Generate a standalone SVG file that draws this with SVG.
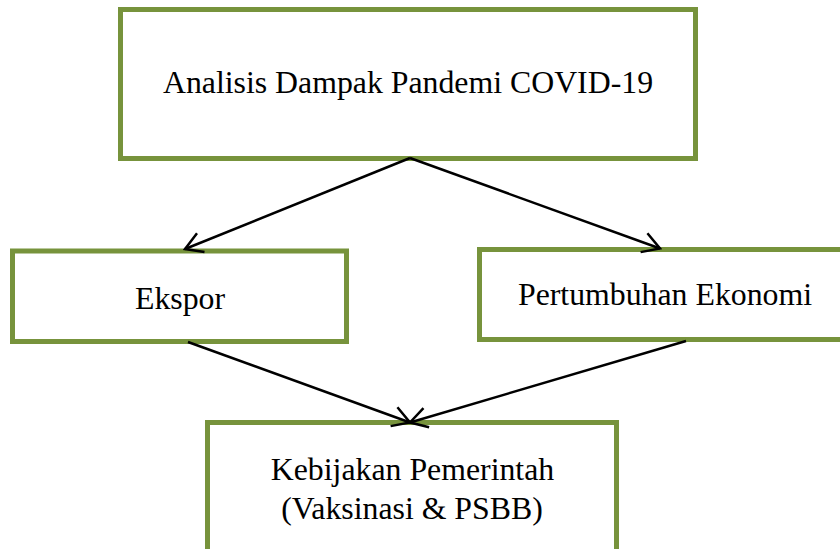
<svg xmlns="http://www.w3.org/2000/svg" width="840" height="549" viewBox="0 0 840 549">
  <defs>
    <style>
      .box { fill: #ffffff; stroke: #77933C; stroke-width: 5; }
      .lbl { font-family: "Liberation Serif", "Times New Roman", serif; font-size: 31.8px; fill: #000000; text-anchor: middle; }
      .conn { stroke: #000000; stroke-width: 2.5; fill: none; }
    </style>
    <marker id="arrow" markerUnits="userSpaceOnUse" viewBox="-22 -13 24 26" markerWidth="24" markerHeight="26" refX="0" refY="0" orient="auto">
      <path d="M -17 -10 L 0 0 L -17 10" fill="none" stroke="#000000" stroke-width="2.5"/>
    </marker>
  </defs>
  <rect width="840" height="549" fill="#ffffff"/>

  <g id="node-analisis">
    <rect class="box" x="120.5" y="9.5" width="575" height="149"/>
    <text class="lbl" x="408" y="93">Analisis Dampak Pandemi COVID-19</text>
  </g>

  <g id="node-ekspor">
    <rect class="box" x="12.5" y="251" width="334" height="90.5"/>
    <text class="lbl" x="180" y="309">Ekspor</text>
  </g>

  <g id="node-pertumbuhan">
    <rect class="box" x="479.5" y="249.5" width="370" height="90"/>
    <text class="lbl" x="665" y="305">Pertumbuhan Ekonomi</text>
  </g>

  <g id="node-kebijakan">
    <rect class="box" x="207.5" y="422.5" width="409" height="150"/>
    <text class="lbl" x="412.5" y="480">Kebijakan Pemerintah</text>
    <text class="lbl" x="412" y="519">(Vaksinasi &amp; PSBB)</text>
  </g>

  <g id="connectors">
    <line class="conn" x1="410" y1="158" x2="185" y2="249" marker-end="url(#arrow)"/>
    <line class="conn" x1="410" y1="158" x2="660" y2="248.5" marker-end="url(#arrow)"/>
    <line class="conn" x1="188" y1="342" x2="410" y2="422.5" marker-end="url(#arrow)"/>
    <line class="conn" x1="686" y1="341" x2="410" y2="422.5" marker-end="url(#arrow)"/>
  </g>
</svg>
